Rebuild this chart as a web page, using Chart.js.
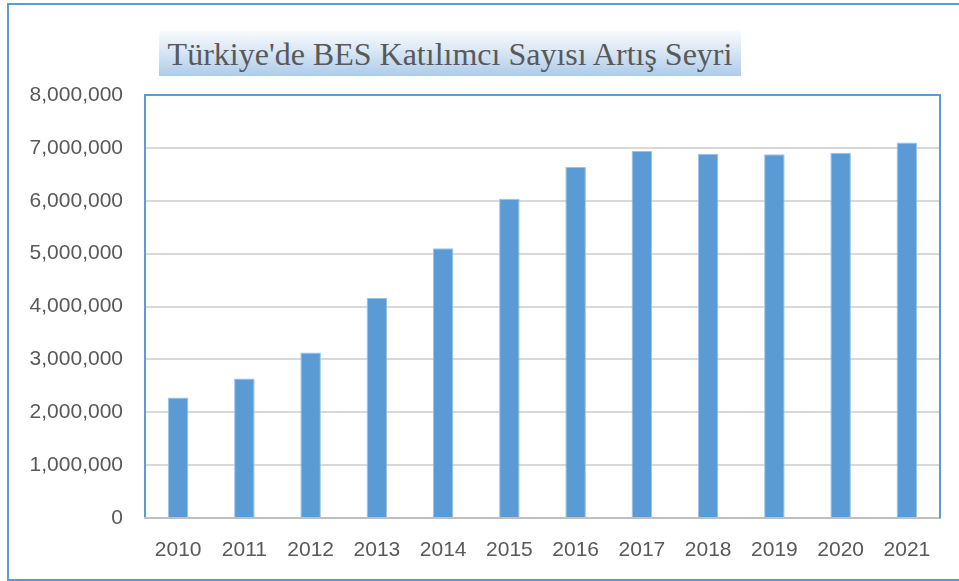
<!DOCTYPE html>
<html>
<head>
<meta charset="utf-8">
<script src="https://cdn.jsdelivr.net/npm/chart.js@4.4.1/dist/chart.umd.min.js"></script>
<style>
  html, body { margin: 0; padding: 0; background: #fff; }
  #wrap { position: relative; width: 959px; height: 581px; overflow: hidden; }
  #frame {
    position: absolute; left: 7px; top: 3px; width: 980px; height: 574px;
    border: 2px solid #5b9bd5; box-sizing: content-box;
  }
  #title {
    position: absolute; left: 159px; top: 31px; width: 582px; height: 45px;
    background: linear-gradient(to bottom, #f7fafd 0%, #d9e7f5 45%, #adcbe9 100%);
    font-family: "Liberation Serif", "Times New Roman", serif;
    font-size: 32px; color: #595959; line-height: 47px; text-align: center;
    white-space: nowrap;
  }
  canvas { position: absolute; left: 0; top: 0; }
</style>
</head>
<body>
<div id="wrap">
  <div id="frame"></div>
  <div id="title">Türkiye'de BES Katılımcı Sayısı Artış Seyri</div>
  <canvas id="myChart" width="959" height="581"></canvas>
</div>
<script>
// veriler
const years = ['2010', '2011', '2012', '2013', '2014', '2015', '2016', '2017', '2018', '2019', '2020', '2021'];
const participants = [2280000, 2640000, 3130000, 4160000, 5100000, 6040000, 6640000, 6940000, 6890000, 6880000, 6910000, 7100000];
const yMax = 8000000;
const yStep = 1000000;

// grafik alanının üst ve sağ çerçevesi
const plotFrame = {
    id: 'plotFrame',
    afterDraw(chart) {
        const { ctx, chartArea } = chart;
        ctx.save();
        ctx.strokeStyle = '#5b9bd5';
        ctx.lineWidth = 2;
        ctx.beginPath();
        ctx.moveTo(chartArea.left, chartArea.top);
        ctx.lineTo(chartArea.right, chartArea.top);
        ctx.lineTo(chartArea.right, chartArea.bottom);
        ctx.stroke();
        ctx.restore();
    }
};

const ctx = document.getElementById('myChart').getContext('2d');
const myChart = new Chart(ctx, {
    type: 'bar',
    data: {
        labels: years,
        datasets: [{
            label: 'Katılımcı Sayısı',
            data: participants,
            backgroundColor: '#5b9bd5',
            borderColor: '#9cc3e6',
            borderWidth: 1,
            barPercentage: 0.31,
            categoryPercentage: 1.0
        }]
    },
    options: {
        responsive: false,
        animation: false,
        layout: { padding: { top: 95, right: 19, left: 0, bottom: 0 } },
        plugins: {
            legend: { display: false },
            title: { display: false },
            tooltip: { enabled: false }
        },
        scales: {
            y: {
                min: 0,
                max: yMax,
                afterFit: (scale) => { scale.width = 145; },
                ticks: {
                    stepSize: yStep,
                    padding: 22,
                    color: '#595959',
                    font: { family: 'Liberation Sans', size: 21 },
                    callback: (v) => v.toLocaleString('en-US')
                },
                grid: {
                    color: (c) => c.tick && c.tick.value === yMax ? 'rgba(0,0,0,0)' : '#d9d9d9',
                    lineWidth: 2,
                    drawTicks: false
                },
                border: { color: '#5b9bd5', width: 2 }
            },
            x: {
                afterFit: (scale) => { scale.height = 63; },
                ticks: {
                    padding: 20,
                    color: '#595959',
                    font: { family: 'Liberation Sans', size: 21 }
                },
                grid: { display: false, drawTicks: false },
                border: { color: '#bfbfbf', width: 2 }
            }
        }
    },
    plugins: [plotFrame]
});
</script>
</body>
</html>
